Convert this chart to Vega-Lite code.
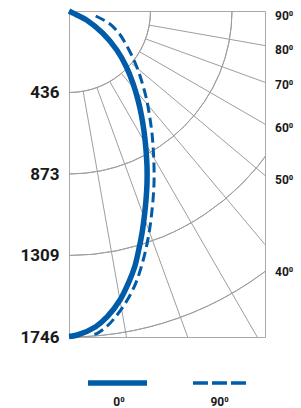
{
  "$schema": "https://vega.github.io/schema/vega-lite/v6.json",
  "width": 196,
  "height": 326,
  "autosize": {"type": "none"},
  "padding": {"left": 69, "top": 11, "right": 36, "bottom": 71},
  "background": "white",
  "view": {"stroke": "#a8a8a8", "strokeWidth": 1},
  "config": {"font": "Roboto", "axisX": {"disable": true}},
  "datasets": {
    "spokes": [
      {"a": 10, "x": 75.8, "y": 429.9, "x2": 307.9, "y2": 1746},
      {"a": 20, "x": 149.3, "y": 410.2, "x2": 635.5, "y2": 1746},
      {"a": 30, "x": 218.3, "y": 378.0, "x2": 1008.1, "y2": 1746},
      {"a": 40, "x": 280.6, "y": 334.4, "x2": 1049.7, "y2": 1251.0},
      {"a": 50, "x": 334.4, "y": 280.6, "x2": 1049.7, "y2": 880.8},
      {"a": 60, "x": 378.0, "y": 218.3, "x2": 1049.7, "y2": 606.0},
      {"a": 70, "x": 410.2, "y": 149.3, "x2": 1049.7, "y2": 382.1},
      {"a": 80, "x": 429.9, "y": 75.8, "x2": 1049.7, "y2": 185.1}
    ],
    "circles": [{"r": 436.5}, {"r": 873}, {"r": 1309.5}, {"r": 1746}],
    "c0": [
      {"i": 0, "x": 0, "y": 0},
      {"i": 1, "x": 48.2, "y": 24.1},
      {"i": 2, "x": 93.7, "y": 48.2},
      {"i": 3, "x": 181.0, "y": 119.4},
      {"i": 4, "x": 256.0, "y": 208.9},
      {"i": 5, "x": 306.9, "y": 298.3},
      {"i": 6, "x": 342.8, "y": 387.2},
      {"i": 7, "x": 369.6, "y": 476.7},
      {"i": 8, "x": 389.4, "y": 566.1},
      {"i": 9, "x": 403.3, "y": 655.0},
      {"i": 10, "x": 412.4, "y": 744.5},
      {"i": 11, "x": 417.8, "y": 833.9},
      {"i": 12, "x": 417.8, "y": 922.8},
      {"i": 13, "x": 412.4, "y": 1012.3},
      {"i": 14, "x": 403.3, "y": 1101.7},
      {"i": 15, "x": 391.0, "y": 1190.6},
      {"i": 16, "x": 373.3, "y": 1280.1},
      {"i": 17, "x": 351.9, "y": 1369.5},
      {"i": 18, "x": 317.6, "y": 1458.4},
      {"i": 19, "x": 273.2, "y": 1547.9},
      {"i": 20, "x": 205.1, "y": 1637.3},
      {"i": 21, "x": 143.0, "y": 1690.9},
      {"i": 22, "x": 44.5, "y": 1735.3},
      {"i": 23, "x": 0, "y": 1743}
    ],
    "c90": [
      {"i": 0, "x": 143.0, "y": 26.8},
      {"i": 1, "x": 214.2, "y": 65.9},
      {"i": 2, "x": 267.8, "y": 119.4},
      {"i": 3, "x": 321.4, "y": 208.9},
      {"i": 4, "x": 362.6, "y": 298.3},
      {"i": 5, "x": 392.6, "y": 387.2},
      {"i": 6, "x": 416.2, "y": 476.7},
      {"i": 7, "x": 432.2, "y": 566.1},
      {"i": 8, "x": 444.5, "y": 655.0},
      {"i": 9, "x": 451.5, "y": 744.5},
      {"i": 10, "x": 455.3, "y": 833.9},
      {"i": 11, "x": 455.3, "y": 922.8},
      {"i": 12, "x": 449.9, "y": 1012.3},
      {"i": 13, "x": 440.8, "y": 1101.7},
      {"i": 14, "x": 428.5, "y": 1190.6},
      {"i": 15, "x": 410.8, "y": 1280.1},
      {"i": 16, "x": 387.2, "y": 1369.5},
      {"i": 17, "x": 357.2, "y": 1458.4},
      {"i": 18, "x": 312.2, "y": 1547.9},
      {"i": 19, "x": 250.1, "y": 1637.3},
      {"i": 20, "x": 205.1, "y": 1687.1},
      {"i": 21, "x": 151.6, "y": 1726.2},
      {"i": 22, "x": 124.8, "y": 1735.3}
    ],
    "angles": [
      {"t": "90\u2070", "x": 1049.7, "y": 26.8},
      {"t": "80\u2070", "x": 1049.7, "y": 208.9},
      {"t": "70\u2070", "x": 1049.7, "y": 393.7},
      {"t": "60\u2070", "x": 1049.7, "y": 624.0},
      {"t": "50\u2070", "x": 1049.7, "y": 905.2},
      {"t": "40\u2070", "x": 1049.7, "y": 1397.9}
    ],
    "leg0": [{"x": 101.8, "x2": 417.8, "y": 1992.4}],
    "leg90": [{"x": 663.9, "x2": 948.0, "y": 1992.4}],
    "legtext": [
      {"t": "0\u2070", "x": 267.8, "y": 2094.2},
      {"t": "90\u2070", "x": 806.1, "y": 2094.2}
    ]
  },
  "layer": [
    {
      "data": {"name": "spokes"},
      "mark": {"type": "rule", "color": "#9e9e9e", "strokeWidth": 1},
      "encoding": {
        "x": {"field": "x", "type": "quantitative", "scale": {"domain": [0, 1049.7], "nice": false, "zero": false}},
        "x2": {"field": "x2"},
        "y": {"field": "y", "type": "quantitative", "scale": {"domain": [0, 1746], "nice": false, "zero": false, "reverse": true},
          "axis": {"values": [436, 873, 1309, 1746], "format": "d", "title": null, "domain": false, "ticks": false, "grid": false, "labelPadding": 10, "labelFontSize": 17, "labelFontWeight": "bold", "labelColor": "#1a1a1a", "labelFont": "Roboto", "labelOverlap": false, "labelBound": false, "labelFlush": false}},
        "y2": {"field": "y2"}
      }
    },
    {
      "data": {"name": "circles"},
      "mark": {"type": "arc", "theta": 1.5708, "theta2": 3.14159, "filled": false, "stroke": "#9e9e9e", "strokeWidth": 1, "clip": true},
      "encoding": {
        "x": {"datum": 0, "type": "quantitative"},
        "y": {"datum": 0, "type": "quantitative"},
        "radius": {"field": "r", "type": "quantitative", "scale": {"type": "linear", "domain": [0, 1746], "range": [0, 326], "zero": true, "nice": false}},
        "radius2": {"field": "r"}
      }
    },
    {
      "data": {"name": "c90"},
      "mark": {"type": "line", "color": "#005ca9", "strokeWidth": 3, "strokeDash": [10, 5], "interpolate": "catmull-rom"},
      "encoding": {
        "x": {"field": "x", "type": "quantitative"},
        "y": {"field": "y", "type": "quantitative"},
        "order": {"field": "i"}
      }
    },
    {
      "data": {"name": "c0"},
      "mark": {"type": "line", "color": "#005ca9", "strokeWidth": 5.5, "interpolate": "catmull-rom"},
      "encoding": {
        "x": {"field": "x", "type": "quantitative"},
        "y": {"field": "y", "type": "quantitative"},
        "order": {"field": "i"}
      }
    },
    {
      "data": {"name": "angles"},
      "mark": {"type": "text", "align": "left", "baseline": "middle", "dx": 10, "fontSize": 12, "fontWeight": "bold", "color": "#1a1a1a", "font": "Roboto"},
      "encoding": {
        "x": {"field": "x", "type": "quantitative"},
        "y": {"field": "y", "type": "quantitative"},
        "text": {"field": "t"}
      }
    },
    {
      "data": {"name": "leg0"},
      "mark": {"type": "rule", "color": "#005ca9", "strokeWidth": 5.5},
      "encoding": {
        "x": {"field": "x", "type": "quantitative"},
        "x2": {"field": "x2"},
        "y": {"field": "y", "type": "quantitative"}
      }
    },
    {
      "data": {"name": "leg90"},
      "mark": {"type": "rule", "color": "#005ca9", "strokeWidth": 3.3, "strokeDash": [15, 4]},
      "encoding": {
        "x": {"field": "x", "type": "quantitative"},
        "x2": {"field": "x2"},
        "y": {"field": "y", "type": "quantitative"}
      }
    },
    {
      "data": {"name": "legtext"},
      "mark": {"type": "text", "align": "center", "baseline": "middle", "fontSize": 12, "fontWeight": "bold", "color": "#1a1a1a", "font": "Roboto"},
      "encoding": {
        "x": {"field": "x", "type": "quantitative"},
        "y": {"field": "y", "type": "quantitative"},
        "text": {"field": "t"}
      }
    }
  ]
}
